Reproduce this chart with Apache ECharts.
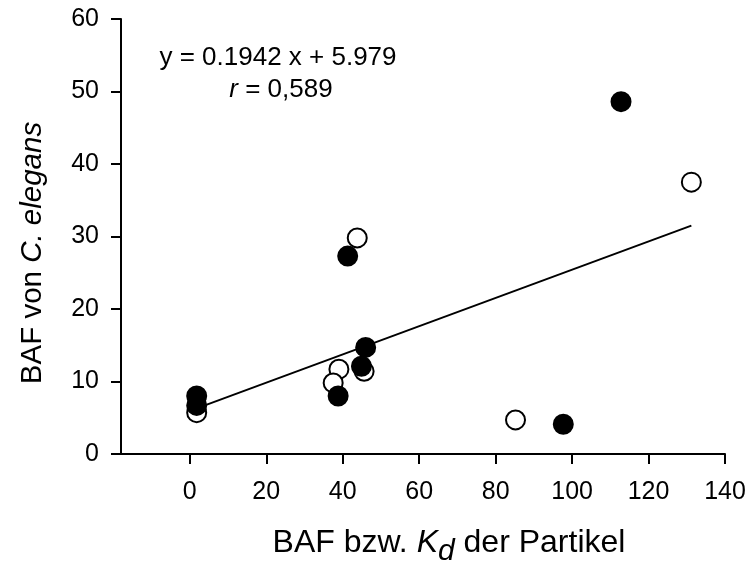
<!DOCTYPE html>
<html>
<head>
<meta charset="utf-8">
<script src="https://cdn.jsdelivr.net/npm/echarts@6/dist/echarts.min.js"></script>
<style>
  html, body { margin: 0; padding: 0; background: #fff; }
  #chart { width: 748px; height: 572px; }
</style>
</head>
<body>
<div id="chart"></div>
<script>
// Messpunkte (x = BAF bzw. Kd der Partikel, y = BAF von C. elegans)
const filledPoints = [[112.8, 48.6], [41.3, 27.3], [46.0, 14.7], [44.9, 12.1], [38.8, 8.0], [1.8, 8.0], [1.8, 6.7], [97.7, 4.1]];
const openPoints = [[131.2, 37.5], [43.8, 29.8], [39.0, 11.7], [37.5, 9.8], [45.6, 11.4], [1.8, 5.7], [85.2, 4.7]];
// Regressionsgerade, Endpunkte
const fitLine = [[1.8, 6.3], [131.2, 31.5]];
const xTicks = [0, 20, 40, 60, 80, 100, 120, 140];
const equation = 'y = 0.1942 x + 5.979';
const rValue = '0,589';

const FONT = '"Liberation Sans", Arial, sans-serif';
const black = { color: '#000', width: 2 };

let chart = echarts.init(document.getElementById('chart'));
chart.setOption({
  animation: false,
  grid: { left: 121, right: 23, top: 19, bottom: 118, outerBoundsMode: 'none' },
  xAxis: {
    type: 'value',
    min: -18,
    max: 140,
    splitLine: { show: false },
    axisLine: { show: true, onZero: false, lineStyle: black },
    axisTick: { show: true, customValues: xTicks, length: 10, lineStyle: black },
    axisLabel: { customValues: xTicks, margin: 26, fontSize: 25, color: '#000', fontFamily: FONT }
  },
  yAxis: {
    type: 'value',
    min: 0,
    max: 60,
    interval: 10,
    splitLine: { show: false },
    axisLine: { show: true, onZero: false, lineStyle: black },
    axisTick: { show: true, length: 10, lineStyle: black },
    axisLabel: { margin: 22, fontSize: 25, color: '#000', fontFamily: FONT }
  },
  series: [
    {
      type: 'line',
      data: fitLine,
      symbol: 'none',
      lineStyle: { color: '#000', width: 2 },
      silent: true,
      z: 1
    },
    {
      type: 'scatter',
      data: openPoints,
      symbolSize: 19,
      itemStyle: { color: '#fff', borderColor: '#000', borderWidth: 2, opacity: 1 },
      z: 2
    },
    {
      type: 'scatter',
      data: filledPoints,
      symbolSize: 19,
      itemStyle: { color: '#000', borderColor: '#000', borderWidth: 2, opacity: 1 },
      z: 3
    }
  ],
  graphic: [
    {
      type: 'text', x: 278, y: 58,
      style: { text: equation, fontSize: 26, fontFamily: FONT, fill: '#000', align: 'center', verticalAlign: 'middle' }
    },
    {
      type: 'text', x: 281, y: 90,
      style: {
        text: '{i|r} = ' + rValue,
        fontSize: 26, fontFamily: FONT, fill: '#000', align: 'center', verticalAlign: 'middle',
        rich: { i: { fontStyle: 'italic', fontSize: 26, fontFamily: FONT } }
      }
    },
    {
      type: 'text', x: 33, y: 253, rotation: Math.PI / 2,
      style: {
        text: 'BAF von {i|C. elegans}',
        fontSize: 29.5, fontFamily: FONT, fill: '#000', align: 'center', verticalAlign: 'middle',
        rich: { i: { fontStyle: 'italic', fontSize: 29.5, fontFamily: FONT } }
      }
    },
    {
      type: 'text', x: 449, y: 543,
      style: {
        text: 'BAF bzw. {i|K}{sub|d} der Partikel',
        fontSize: 32, fontFamily: FONT, fill: '#000', align: 'center', verticalAlign: 'middle',
        rich: {
          i: { fontStyle: 'italic', fontSize: 32, fontFamily: FONT },
          sub: { fontStyle: 'italic', fontSize: 30, fontFamily: FONT, padding: [18, 0, 0, 0] }
        }
      }
    }
  ]
});
</script>
</body>
</html>
